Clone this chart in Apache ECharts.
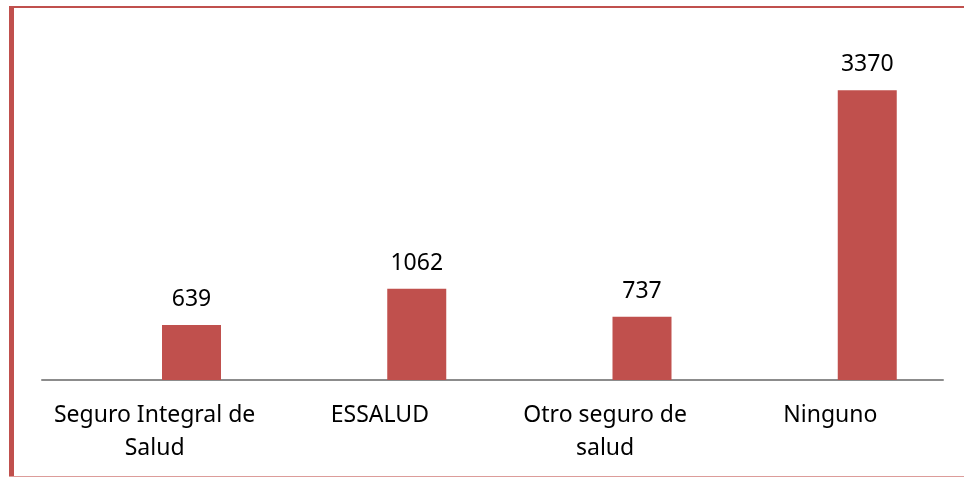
<!DOCTYPE html>
<html>
<head>
<meta charset="utf-8">
<script src="https://cdn.jsdelivr.net/npm/echarts@6/dist/echarts.min.js"></script>
<style>
	body { margin: 0; background: #fff; }
	#chart { width: 964px; height: 478px; }
</style>
</head>
<body>
<div id="chart"></div>
<script>
// datos
var categorias = ['Seguro Integral de\nSalud', 'ESSALUD', 'Otro seguro de\nsalud', 'Ninguno'];
var valores = [639, 1062, 737, 3370];
var vacio = [null, null, null, null];

function initPage(){
	var myChart = echarts.init(document.getElementById("chart"));
	var option = {
		animation: false,
		textStyle: { fontFamily: 'Noto Sans' },
		// marco del grafico
		graphic: [
			{ type: 'rect', z: 100, shape: { x: 9, y: 6, width: 955, height: 2 }, style: { fill: '#c0504d' } },
			{ type: 'rect', z: 100, shape: { x: 9, y: 6, width: 5, height: 471 }, style: { fill: '#c0504d' } },
			{ type: 'rect', z: 100, shape: { x: 9, y: 476, width: 955, height: 1 }, style: { fill: '#dc9c9a' } }
		],
		grid: {
			left: 42,
			right: 21,
			top: 19,
			bottom: 98
		},
		xAxis: {
			type: 'category',
			data: categorias,
			axisTick: { show: false },
			axisLine: { lineStyle: { color: '#8c8c8c', width: 2 } },
			axisLabel: {
				color: '#000',
				fontSize: 23,
				lineHeight: 33,
				margin: 19,
				fontFamily: 'Noto Sans',
				interval: 0
			}
		},
		yAxis: {
			type: 'value',
			min: 0,
			max: 4200,
			show: false,
			splitLine: { show: false }
		},
		series: [
			{
				// serie vacia, solo ocupa el hueco a la izquierda
				type: 'bar',
				data: vacio,
				barWidth: 59,
				barGap: '25%'
			},
			{
				type: 'bar',
				data: valores,
				barWidth: 59,
				barGap: '25%',
				itemStyle: { color: '#c0504d' },
				label: {
					show: true,
					position: 'top',
					distance: 14,
					color: '#000',
					fontSize: 23,
					fontFamily: 'Noto Sans'
				}
			}
		]
	};
	myChart.setOption(option);
}

initPage();
</script>
</body>
</html>
